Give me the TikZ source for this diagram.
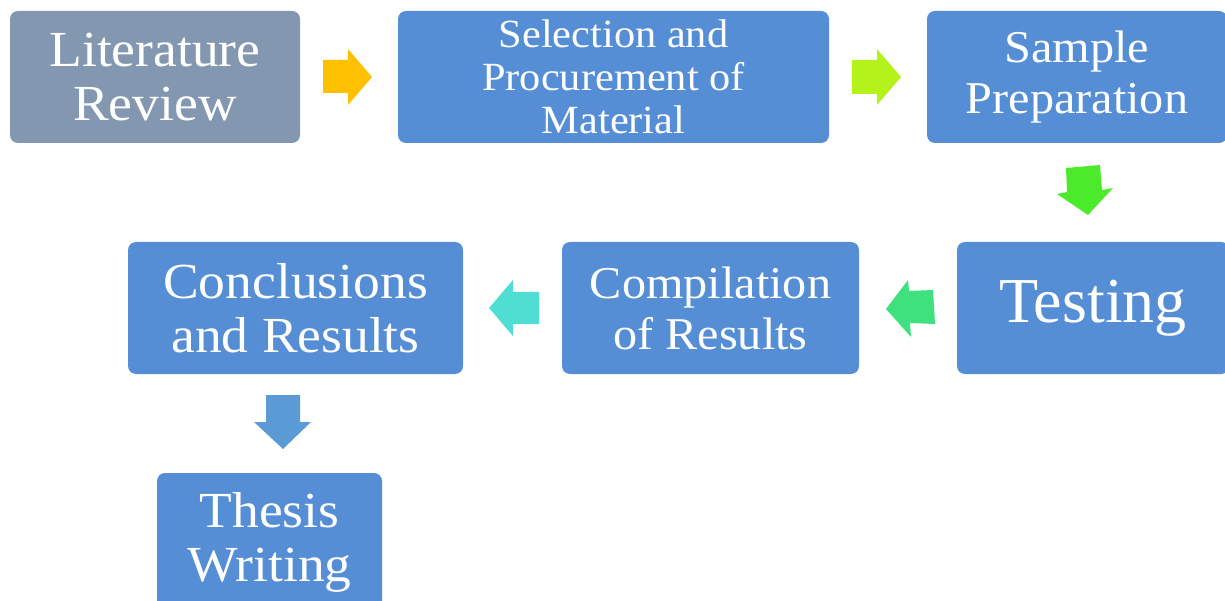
\documentclass[tikz,border=0pt]{standalone}
\usepackage{fontspec}
\setmainfont{Liberation Serif}
\newfontfamily\widefont[FakeStretch=1.06]{Liberation Serif}
\definecolor{litgray}{HTML}{8497B0}
\definecolor{boxblue}{HTML}{558ED5}
\definecolor{aorange}{HTML}{FFC000}
\definecolor{alime}{HTML}{B3F21A}
\definecolor{agreen}{HTML}{4BEB2B}
\definecolor{amint}{HTML}{3EE17E}
\definecolor{ateal}{HTML}{4FDED1}
\definecolor{ablue}{HTML}{5B9BD5}
\tikzset{
  stepbox/.style={fill=boxblue, draw=none, rounded corners=8pt, text=white, align=center, inner sep=0pt},
  bigtext/.style={font=\widefont\fontsize{50.5}{54}\selectfont},
  midtext/.style={font=\widefont\fontsize{45.5}{51}\selectfont},
}
\begin{document}
\begin{tikzpicture}[x=1pt,y=-1pt]
\useasboundingbox (0,0) rectangle (1225,601);
% boxes
\node[stepbox, fill=litgray, bigtext, minimum width=290pt, minimum height=132pt] (lit) at (155,77) {Literature\\Review};
\node[stepbox, font=\widefont\fontsize{40}{43}\selectfont, minimum width=431pt, minimum height=132pt] (sel) at (613.5,77) {Selection and\\Procurement of\\Material};
\node[stepbox, midtext, minimum width=300pt, minimum height=132pt] (samp) at (1077,77) {Sample\\Preparation};
\node[stepbox, font=\fontsize{64}{70}\selectfont, minimum width=272pt, minimum height=132pt] (test) at (1093,308) {Testing};
\node[stepbox, midtext, minimum width=297pt, minimum height=132pt] (comp) at (710.5,308) {Compilation\\of Results};
\node[stepbox, bigtext, minimum width=335pt, minimum height=132pt] (conc) at (295.5,308) {Conclusions\\and Results};
\node[stepbox, bigtext, minimum width=225pt, minimum height=138pt] (thes) at (269.5,542) {Thesis\\Writing};
% block arrows (connectors)
\fill[aorange] (323,60) -- (348,60) -- (348,49) -- (372,77) -- (348,105) -- (348,93) -- (323,93) -- cycle;
\fill[alime] (852,60) -- (877,60) -- (877,49) -- (901,77) -- (877,105) -- (877,94) -- (852,94) -- cycle;
\fill[agreen] (1066,168) -- (1100,165) -- (1102,190) -- (1113,188) -- (1088,215) -- (1057,194) -- (1067,192) -- cycle;
\fill[amint] (886,309) -- (908,280) -- (909,291) -- (933,290) -- (935,324) -- (910,323) -- (911,337) -- cycle;
\fill[ateal] (489,308) -- (513,280) -- (513,292) -- (539,292) -- (539,324) -- (513,324) -- (513,336) -- cycle;
\fill[ablue] (266,395) -- (300,395) -- (300,422) -- (311,422) -- (283,449) -- (254,422) -- (266,422) -- cycle;
\end{tikzpicture}
\end{document}
